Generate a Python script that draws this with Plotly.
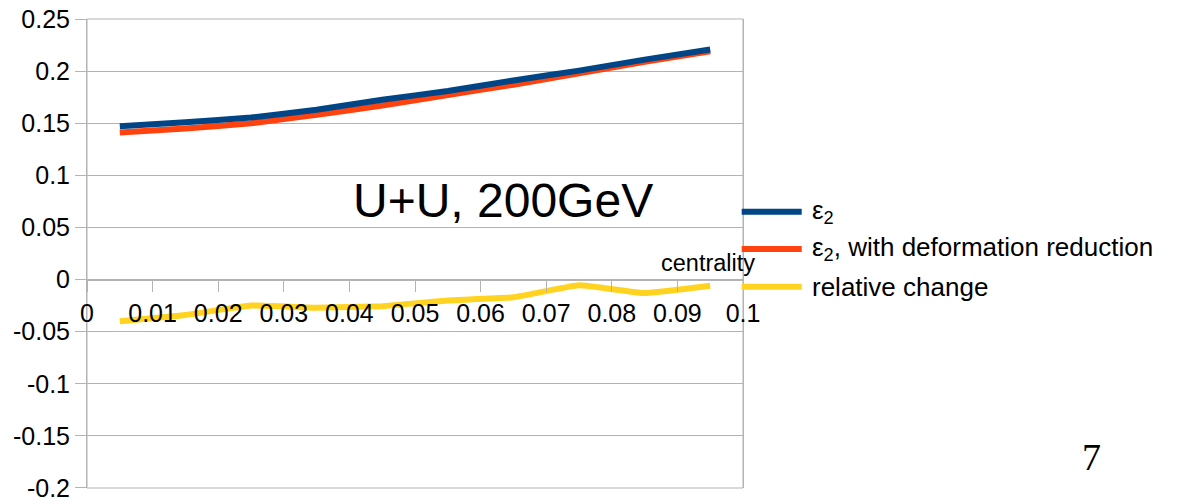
import plotly.graph_objects as go

# Centrality bins (bin centres)
centrality = [0.005, 0.015, 0.025, 0.035, 0.045, 0.055, 0.065, 0.075, 0.085, 0.095]

# Eccentricity epsilon_2, with and without deformation reduction, and their relative change
eps2 = [0.147, 0.151, 0.1555, 0.163, 0.1725, 0.181, 0.191, 0.2005, 0.211, 0.2207]
eps2_reduced = [0.141, 0.145, 0.150, 0.158, 0.167, 0.177, 0.187, 0.198, 0.209, 0.219]
relative_change = [-0.040, -0.034, -0.025, -0.027, -0.0255, -0.020, -0.017, -0.0055, -0.013, -0.006]

series_names = ["ε<sub>2</sub>", "ε<sub>2</sub>, with deformation reduction", "relative change"]
series_colors = ["#004586", "#ff420e", "#ffd320"]

x_tick_vals = [0, 0.01, 0.02, 0.03, 0.04, 0.05, 0.06, 0.07, 0.08, 0.09, 0.1]
x_tick_text = ["0", "0.01", "0.02", "0.03", "0.04", "0.05", "0.06", "0.07", "0.08", "0.09", "0.1"]
y_tick_vals = [0.25, 0.2, 0.15, 0.1, 0.05, 0, -0.05, -0.1, -0.15, -0.2]
y_tick_text = ["0.25", "0.2", "0.15", "0.1", "0.05", "0", "-0.05", "-0.1", "-0.15", "-0.2"]

FONT = "Liberation Sans"
GRID = "#b3b3b3"
Y_MIN, Y_MAX = -0.2, 0.25
EPS = 1e-5  # keeps the end gridlines and labels inside the range

fig = go.Figure()

# draw order: relative change, reduced, then eps2 on top
for idx, ys in [(2, relative_change), (1, eps2_reduced), (0, eps2)]:
    fig.add_trace(go.Scatter(
        x=centrality, y=ys, mode="lines", name=series_names[idx],
        line=dict(color=series_colors[idx], width=6, shape="spline", smoothing=0.3),
        showlegend=False,
    ))

# frame around the plotting area
fig.add_shape(type="rect", xref="paper", yref="paper", x0=0, x1=1, y0=0, y1=1,
              line=dict(color=GRID, width=1), layer="below")

# Legend drawn at the right of the plot: long line keys + labels
legend_y = [0.5891, 0.5096, 0.4292]
for name, color, ly in zip(series_names, series_colors, legend_y):
    fig.add_shape(type="line", xref="paper", yref="paper",
                  x0=0.998, x1=1.0895, y0=ly, y1=ly,
                  line=dict(color=color, width=6))
    fig.add_annotation(text=name, xref="paper", yref="paper",
                       x=1.1021, y=ly, xanchor="left", yanchor="middle",
                       showarrow=False, font=dict(family=FONT, size=26, color="#000"))

fig.add_annotation(text="U+U, 200GeV", xref="paper", yref="paper",
                   x=0.6334, y=0.612, xanchor="center", yanchor="middle",
                   showarrow=False, font=dict(family=FONT, size=48, color="#000"))
fig.add_annotation(text="centrality", xref="paper", yref="paper",
                   x=0.9466, y=0.4797, xanchor="center", yanchor="middle",
                   showarrow=False, font=dict(family=FONT, size=23.5, color="#000"))
fig.add_annotation(text="7", xref="paper", yref="paper",
                   x=1.531, y=0.0661, xanchor="center", yanchor="middle",
                   showarrow=False, font=dict(family="Liberation Serif", size=38, color="#000"))

fig.update_layout(
    width=1197, height=500,
    margin=dict(l=87, r=454, t=19, b=12, autoexpand=False),
    paper_bgcolor="white", plot_bgcolor="white",
    font=dict(family=FONT, size=25, color="#000"),
    xaxis=dict(
        range=[0, 0.1], anchor="free", position=(0 - Y_MIN) / (Y_MAX - Y_MIN),
        tickvals=x_tick_vals, ticktext=x_tick_text,
        ticks="outside", ticklen=11, tickcolor=GRID, tickwidth=1,
        showline=True, linecolor=GRID, linewidth=1,
        showgrid=False, zeroline=False,
        tickfont=dict(family=FONT, size=25, color="#000"),
    ),
    yaxis=dict(
        range=[Y_MIN - EPS, Y_MAX + EPS],
        tickvals=y_tick_vals, ticktext=y_tick_text,
        ticks="outside", ticklen=11, tickcolor=GRID, tickwidth=1,
        ticklabeloverflow="allow",
        showline=True, linecolor=GRID, linewidth=1, mirror=True,
        showgrid=True, gridcolor=GRID, gridwidth=1, zeroline=False,
        tickfont=dict(family=FONT, size=25, color="#000"),
    ),
)

fig.write_html("out.html")
